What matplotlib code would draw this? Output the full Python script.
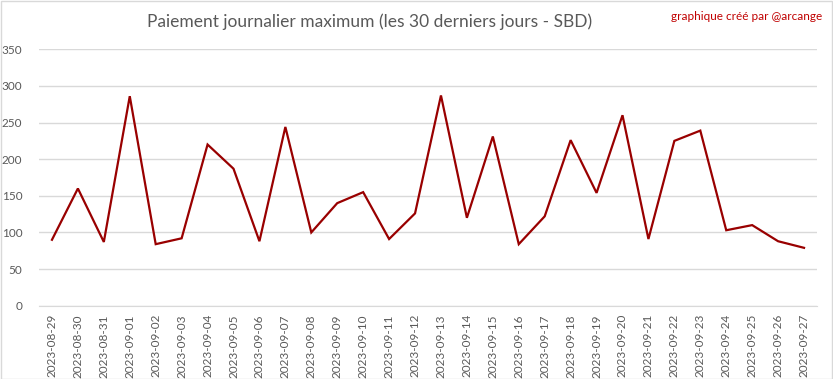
import matplotlib
matplotlib.use("Agg")
import matplotlib.pyplot as plt
from matplotlib.patches import Rectangle

dates = ["2023-08-29", "2023-08-30", "2023-08-31", "2023-09-01", "2023-09-02",
         "2023-09-03", "2023-09-04", "2023-09-05", "2023-09-06", "2023-09-07",
         "2023-09-08", "2023-09-09", "2023-09-10", "2023-09-11", "2023-09-12",
         "2023-09-13", "2023-09-14", "2023-09-15", "2023-09-16", "2023-09-17",
         "2023-09-18", "2023-09-19", "2023-09-20", "2023-09-21", "2023-09-22",
         "2023-09-23", "2023-09-24", "2023-09-25", "2023-09-26", "2023-09-27"]
values = [90, 160, 87, 286, 84, 92, 220, 187, 88, 244,
          100, 140, 155, 91, 126, 287, 120, 231, 84, 122,
          226, 154, 260, 91, 225, 239, 103, 110, 88, 79]
yticks = [0, 50, 100, 150, 200, 250, 300, 350]

title = "Paiement journalier maximum (les 30 derniers jours - SBD)"
credit = "graphique créé par @arcange"

plt.rcParams['font.family'] = ['Lato', 'DejaVu Sans']

fig = plt.figure(figsize=(8.33, 3.79), dpi=100)
ax = fig.add_axes([39/833, 1-305.7/379, (817-39)/833, (305.7-49.3)/379])

x = list(range(len(dates)))
ax.plot(x, values, color="#990000", linewidth=1.6, solid_joinstyle="miter")
ax.set_xlim(-0.5, len(dates) - 0.5)
ax.set_ylim(0, 350)
ax.set_yticks(yticks)
ax.set_xticks(x)
ax.set_xticklabels(dates, rotation=90)
ax.grid(axis="y", color="#d9d9d9", linewidth=1.0)
ax.set_axisbelow(True)
for s in ["top", "right", "left"]:
    ax.spines[s].set_visible(False)
ax.spines["bottom"].set_color("#d9d9d9")
ax.tick_params(axis="both", length=0, colors="#595959", labelsize=8.5)
ax.tick_params(axis="y", pad=12)
ax.tick_params(axis="x", pad=6)

fig.text(370/833, 1-22/379, title, ha="center", va="center", fontsize=12.5, color="#595959")
fig.text(822/833, 1-16/379, credit, ha="right", va="center", fontsize=8.5, color="#c00000")

fig.patches.append(Rectangle((0.5/833, 0.5/379), 831.5/833, 377.5/379, transform=fig.transFigure,
                             fill=False, edgecolor="#d9d9d9", linewidth=1.0))

fig.savefig("out.png", dpi=100, facecolor="white")
